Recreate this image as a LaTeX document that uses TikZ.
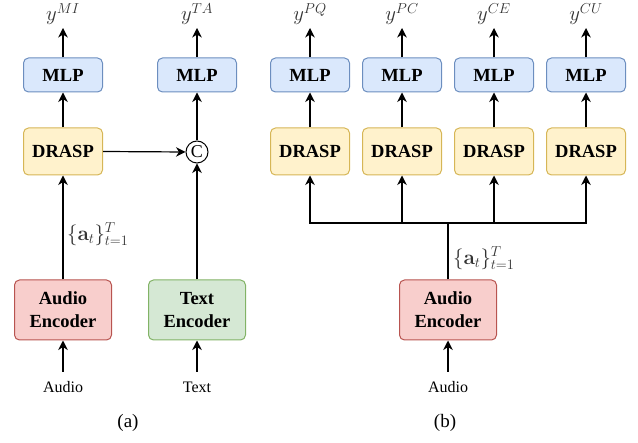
\documentclass[tikz,border=0pt]{standalone}
\usepackage[no-math]{fontspec}
\setmainfont{Liberation Serif}
\usetikzlibrary{arrows.meta}
\definecolor{bfill}{HTML}{DAE8FC}\definecolor{bdraw}{HTML}{6C8EBF}
\definecolor{yfill}{HTML}{FFF2CC}\definecolor{ydraw}{HTML}{D6B656}
\definecolor{rfill}{HTML}{F8CECC}\definecolor{rdraw}{HTML}{B85450}
\definecolor{gfill}{HTML}{D5E8D4}\definecolor{gdraw}{HTML}{82B366}
\begin{document}
\begin{tikzpicture}[x=1pt,y=-1pt,
  box/.style={rounded corners=5pt,line width=1pt,align=center,inner sep=0pt,
    font=\fontsize{18.5}{23}\selectfont\bfseries},
  mlp/.style={box,fill=bfill,draw=bdraw,minimum width=79pt,minimum height=34pt},
  drasp/.style={box,fill=yfill,draw=ydraw,minimum width=79pt,minimum height=47pt},
  enc/.style={box,minimum width=97pt,minimum height=60pt},
  audenc/.style={enc,fill=rfill,draw=rdraw},
  txtenc/.style={enc,fill=gfill,draw=gdraw},
  arr/.style={-{Stealth[length=9.5pt,width=9.5pt,inset=3pt]},line width=1.2pt},
  inarr/.style={-{Stealth[length=9.5pt,width=9.5pt,inset=3pt]},line width=1.5pt},
  lbl/.style={font=\fontsize{20}{24}\selectfont,text=black!80,inner sep=0pt},
  small/.style={font=\fontsize{16}{19}\selectfont,inner sep=0pt},
  subcap/.style={font=\fontsize{19}{23}\selectfont,inner sep=0pt},
]
\useasboundingbox (0,0) rectangle (638,443);
% (a)
\node[mlp] (m1) at (63,75) {MLP};
\node[drasp] (d1) at (63,151.5) {DRASP};
\node[audenc] (ae1) at (63,310) {Audio\\Encoder};
\node[mlp] (m2) at (197,75) {MLP};
\node[circle,draw,line width=1pt,minimum size=22pt,inner sep=0pt,font=\fontsize{18}{20}\selectfont] (c) at (197,152) {C};
\node[txtenc] (te) at (197,310) {Text\\Encoder};
\node[lbl] (y1) at (63,14) {$y^{MI}$};
\node[lbl] (y2) at (197,14) {$y^{TA}$};
\node[small] (ain1) at (63,387) {Audio};
\node[small] (tin) at (197,387) {Text};
\node[subcap] (ca) at (128,423) {(a)};
\node[lbl,anchor=west] (at1) at (67,234) {$\{\mathbf{a}_t\}_{t=1}^{T}$};
\coordinate (ai1) at (63,372);
\coordinate (ti) at (197,372);
\coordinate (o1) at (63,28);
\coordinate (o2) at (197,28);
\draw[arr] (m1.north) -- (o1);
\draw[arr] (m2.north) -- (o2);
\draw[arr] (d1.north) -- (m1.south);
\draw[arr] (c.north) -- (m2.south);
\draw[arr] (d1.east) -- (c.west);
\draw[arr] (ae1.north) -- (d1.south);
\draw[arr] (te.north) -- (c.south);
\draw[inarr] (ai1) -- (ae1.south);
\draw[inarr] (ti) -- (te.south);
% (b)
\foreach \i/\x/\s in {3/310/PQ,4/402/PC,5/494/CE,6/586/CU}{
  \node[mlp] (m\i) at (\x,75) {MLP};
  \node[drasp] (d\i) at (\x,151.5) {DRASP};
  \node[lbl] (y\i) at (\x,14) {$y^{\s}$};
  \coordinate (o\i) at (\x,28);
  \draw[arr] (m\i.north) -- (o\i);
  \draw[arr] (d\i.north) -- (m\i.south);
}
\node[audenc] (ae2) at (448,310) {Audio\\Encoder};
\node[small] (ain2) at (448,387) {Audio};
\node[subcap] (cb) at (445,423) {(b)};
\node[lbl,anchor=west] (at2) at (453,258) {$\{\mathbf{a}_t\}_{t=1}^{T}$};
\coordinate (ai2) at (448,372);
\coordinate (bus) at (448,223);
\draw[inarr] (ai2) -- (ae2.south);
\draw[line width=1.2pt] (ae2.north) -- (bus);
\foreach \i in {3,4,5,6}{
  \draw[arr] (bus) -| (d\i.south);
}
\end{tikzpicture}
\end{document}
